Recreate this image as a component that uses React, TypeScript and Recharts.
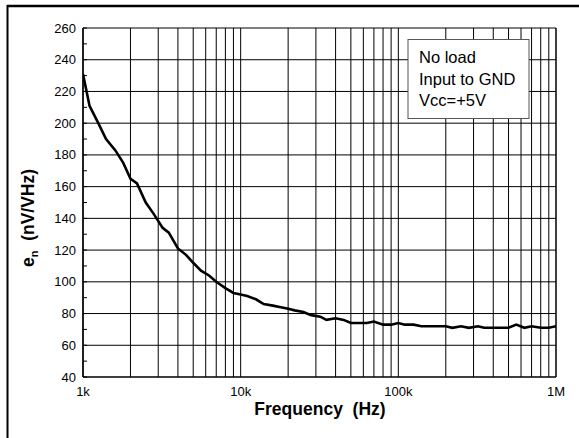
import React from "react";
import { LineChart, Line, XAxis, YAxis, CartesianGrid, ReferenceLine } from "recharts";

const frequencies = [
  1000, 1100, 1250, 1400, 1600, 1800, 2000, 2200, 2500, 2800, 3200, 3500, 4000, 4500, 5000, 5600, 6300, 7000, 8000, 9000,
  10000, 11000, 12500, 14000, 16000, 18000, 20000, 22000, 25000, 28000, 32000, 35000, 40000, 45000, 50000, 56000, 63000,
  70000, 80000, 90000, 100000, 110000, 125000, 140000, 160000, 180000, 200000, 220000, 250000, 280000, 320000, 350000,
  400000, 450000, 500000, 560000, 630000, 700000, 800000, 900000, 1000000,
];
const noise = [
  231, 211, 200, 190, 183, 175, 165, 162, 150, 143, 134, 131, 121, 117, 112, 107, 104, 100, 96, 93,
  92, 91, 89, 86, 85, 84, 83, 82, 81, 79, 78, 76, 77, 76, 74, 74, 74,
  75, 73, 73, 74, 73, 73, 72, 72, 72, 72, 71, 72, 71, 72, 71,
  71, 71, 71, 73, 71, 72, 71, 71, 72,
];
const xGridTicks = [
  1000, 2000, 3000, 4000, 5000, 6000, 7000, 8000, 9000,
  10000, 20000, 30000, 40000, 50000, 60000, 70000, 80000, 90000,
  100000, 200000, 300000, 400000, 500000, 600000, 700000, 800000, 900000, 1000000,
];
const xLabels: Record<number, string> = { 1000: "1k", 10000: "10k", 100000: "100k", 1000000: "1M" };
const yTicks = [40, 50, 60, 70, 80, 90, 100, 110, 120, 130, 140, 150, 160, 170, 180, 190, 200, 210, 220, 230, 240, 250, 260];
const yMajor = [60, 80, 100, 120, 140, 160, 180, 200, 220, 240, 260];
const legendLines = ["No load", "Input to GND", "Vcc=+5V"];

const data = frequencies.map((f, i) => ({ f, v: noise[i] }));

const FONT = "'Liberation Sans', Arial, sans-serif";
const PLOT_LEFT = 83;
const PLOT_RIGHT = 556;

const XTick = (props: any) => {
  const { x, payload } = props;
  const label = xLabels[payload.value];
  if (!label) return <g />;
  return (
    <text x={x} y={396} textAnchor="middle" fontSize={13} fontFamily={FONT} fill="#000">
      {label}
    </text>
  );
};

const YTickLeft = (props: any) => {
  const { y, payload } = props;
  const isMajor = payload.value % 20 === 0;
  return (
    <g>
      <line x1={PLOT_LEFT} x2={PLOT_LEFT + 4} y1={y} y2={y} stroke="#000" strokeWidth={1} />
      {isMajor && (
        <text x={76} y={y + 4.5} textAnchor="end" fontSize={13} fontFamily={FONT} fill="#000">
          {payload.value}
        </text>
      )}
    </g>
  );
};

const YTickRight = (props: any) => {
  const { y } = props;
  return <line x1={PLOT_RIGHT - 4} x2={PLOT_RIGHT} y1={y} y2={y} stroke="#000" strokeWidth={1} />;
};

export default function App() {
  return (
    <div style={{ position: "absolute", left: 0, top: 0, width: 579, height: 438, background: "#fff", overflow: "hidden" }}>
      <LineChart width={579} height={438} data={data} margin={{ top: 28, right: 22, left: 0, bottom: 0 }}>
        <CartesianGrid horizontal={false} vertical={true} stroke="#000" strokeWidth={1} />
        {yMajor.map((v) => (
          <ReferenceLine key={v} y={v} yAxisId="l" stroke="#000" strokeWidth={1} />
        ))}
        <XAxis
          dataKey="f"
          type="number"
          scale="log"
          domain={[1000, 1000000]}
          ticks={xGridTicks}
          interval={0}
          tick={<XTick />}
          tickLine={false}
          axisLine={{ stroke: "#000", strokeWidth: 1.5 }}
          height={61}
          allowDataOverflow
        />
        <YAxis
          yAxisId="l"
          type="number"
          domain={[40, 260]}
          ticks={yTicks}
          tick={<YTickLeft />}
          tickLine={false}
          axisLine={{ stroke: "#000", strokeWidth: 1.5 }}
          width={83}
          interval={0}
        />
        <YAxis
          yAxisId="r"
          orientation="right"
          type="number"
          domain={[40, 260]}
          ticks={yTicks}
          tick={<YTickRight />}
          tickLine={false}
          axisLine={{ stroke: "#000", strokeWidth: 1 }}
          width={1}
          interval={0}
        />
        <Line
          yAxisId="l"
          dataKey="v"
          type="linear"
          stroke="#000"
          strokeWidth={2.6}
          dot={false}
          isAnimationActive={false}
        />
      </LineChart>
      <svg style={{ position: "absolute", left: 0, top: 0 }} width={579} height={438}>
        <line x1={7} x2={579} y1={6} y2={6} stroke="#000" strokeWidth={2.6} />
        <line x1={7.5} x2={7.5} y1={5} y2={438} stroke="#000" strokeWidth={2} />
        <text
          x={320}
          y={415}
          textAnchor="middle"
          fontSize={17.5}
          fontWeight="bold"
          fontFamily={FONT}
          fill="#000"
          style={{ whiteSpace: "pre" }}
        >
          {"Frequency  (Hz)"}
        </text>
        <text
          transform="translate(34,218) rotate(-90)"
          textAnchor="middle"
          fontSize={17.5}
          fontWeight="bold"
          fontFamily={FONT}
          fill="#000"
          style={{ whiteSpace: "pre" }}
        >
          e<tspan fontSize={11} dy={4}>n</tspan>
          <tspan dy={-4}>{"  (nV/VHz)"}</tspan>
        </text>
        <rect x={408} y={39.5} width={121} height={79} fill="#fff" stroke="#555" strokeWidth={1} />
        {legendLines.map((t, i) => (
          <text key={t} x={419} y={63 + i * 21.5} fontSize={16.5} fontFamily={FONT} fill="#000">
            {t}
          </text>
        ))}
      </svg>
    </div>
  );
}
